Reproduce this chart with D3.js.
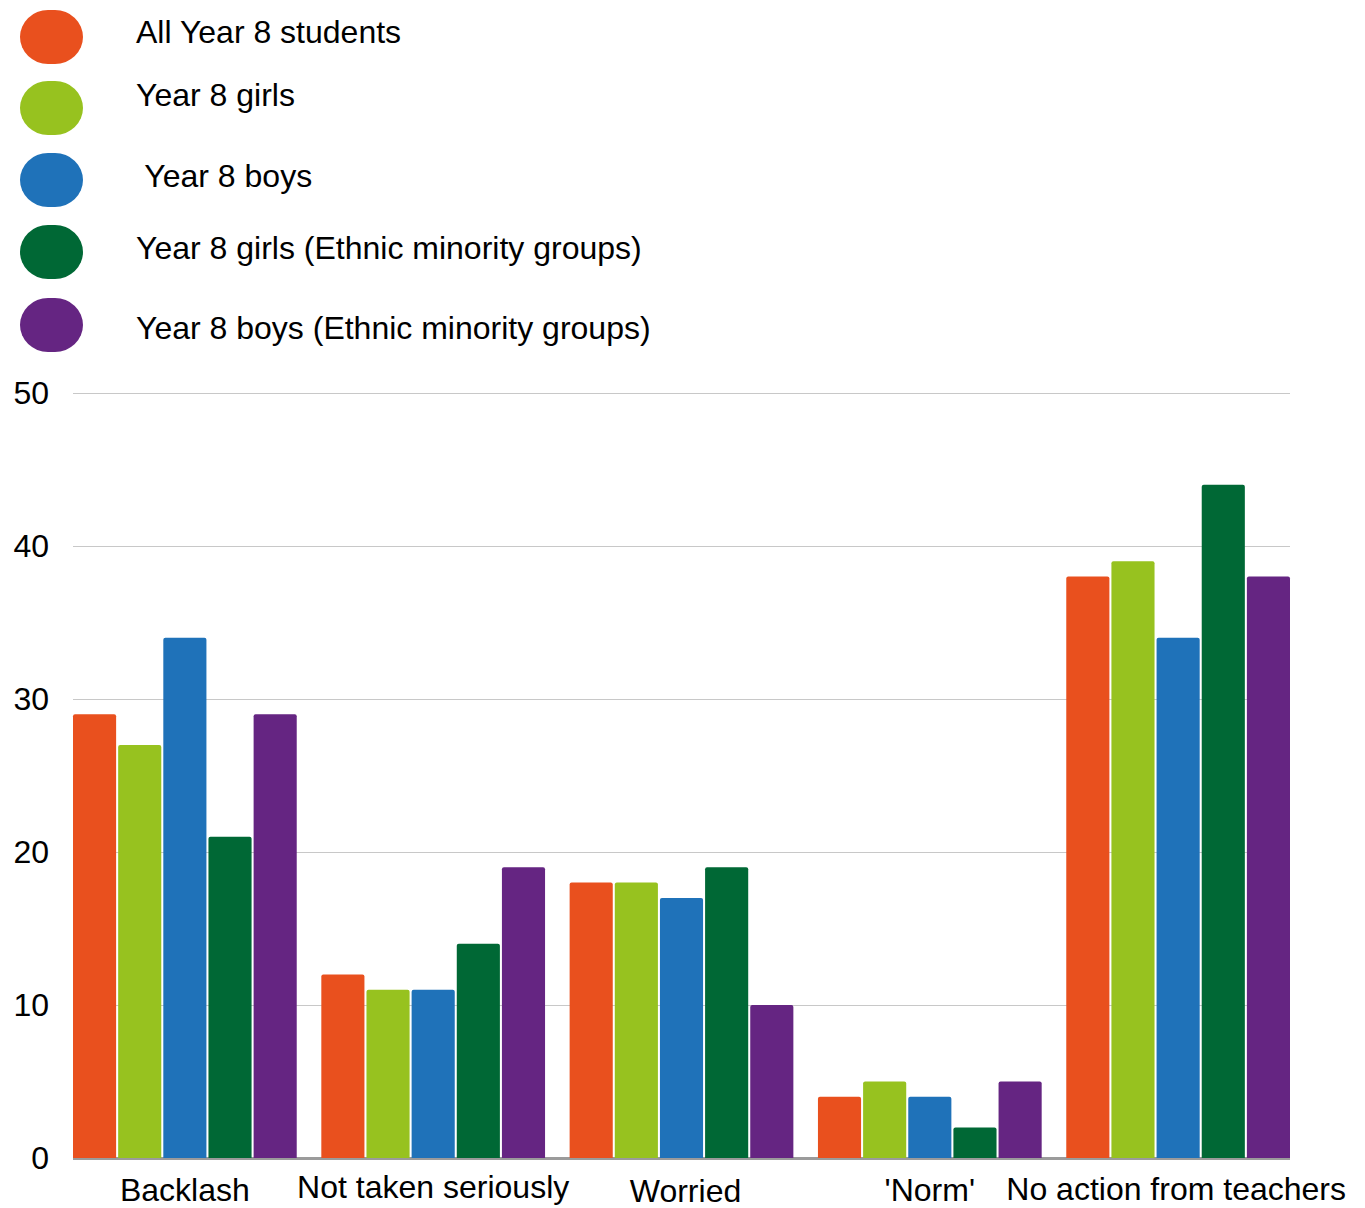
<!DOCTYPE html>
<html>
<head>
<meta charset="utf-8">
<script src="https://cdn.jsdelivr.net/npm/d3@7"></script>
<style>
  html, body { margin: 0; padding: 0; background: #fff; }
  svg { display: block; font-family: "Liberation Sans", Arial, sans-serif; }
</style>
</head>
<body>
<svg id="chart" width="1365" height="1208"></svg>
<script>
// Reasons given, one group of bars per reason
const categories = ["Backlash", "Not taken seriously", "Worried", "'Norm'", "No action from teachers"];

// Respondent groups (legend order)
const seriesNames = [
  "All Year 8 students",
  "Year 8 girls",
  " Year 8 boys",
  "Year 8 girls (Ethnic minority groups)",
  "Year 8 boys (Ethnic minority groups)"
];
const seriesColors = ["#E9501E", "#97C21F", "#1F72B9", "#006835", "#652582"];

// Percentages per series, in category order
const allStudents   = [29, 12, 18, 4, 38];
const girls         = [27, 11, 18, 5, 39];
const boys          = [34, 11, 17, 4, 34];
const girlsMinority = [21, 14, 19, 2, 44];
const boysMinority  = [29, 19, 10, 5, 38];
const seriesValues = [allStudents, girls, boys, girlsMinority, boysMinority];

const yTicks = [0, 10, 20, 30, 40, 50];

const svg = d3.select("#chart");

const plot = { left: 73, right: 1290, top: 393, bottom: 1158 };

const y = d3.scaleLinear().domain([0, 50]).range([plot.bottom, plot.top]);

const x0 = d3.scaleBand()
  .domain(categories)
  .range([plot.left, plot.right])
  .paddingInner(0.099)
  .paddingOuter(0);

const x1 = d3.scaleBand()
  .domain(d3.range(seriesNames.length))
  .range([0, x0.bandwidth()])
  .paddingInner(0.045)
  .paddingOuter(0);

// Horizontal gridlines
svg.append("g")
  .selectAll("line")
  .data(yTicks.filter(t => t > 0))
  .join("line")
  .attr("x1", plot.left)
  .attr("x2", plot.right)
  .attr("y1", d => Math.round(y(d)) + 0.5)
  .attr("y2", d => Math.round(y(d)) + 0.5)
  .attr("stroke", "#c8c8c8")
  .attr("stroke-width", 1);

// Baseline
svg.append("line")
  .attr("x1", plot.left)
  .attr("x2", plot.right)
  .attr("y1", y(0) + 0.5)
  .attr("y2", y(0) + 0.5)
  .attr("stroke", "#9b9b9b")
  .attr("stroke-width", 3);

// Y tick labels
svg.append("g")
  .selectAll("text")
  .data(yTicks)
  .join("text")
  .attr("x", 49)
  .attr("y", d => y(d) - 1)
  .attr("dy", "0.36em")
  .attr("text-anchor", "end")
  .attr("font-size", 32)
  .attr("fill", "#000")
  .text(d => d);

// Bars
const rows = categories.map((c, ci) => ({
  category: c,
  values: seriesValues.map((vals, si) => ({ si, value: vals[ci] }))
}));

const groups = svg.append("g")
  .selectAll("g")
  .data(rows)
  .join("g")
  .attr("transform", d => `translate(${x0(d.category)},0)`);

groups.selectAll("path")
  .data(d => d.values)
  .join("path")
  .attr("fill", d => seriesColors[d.si])
  .attr("d", d => {
    const bx = x1(d.si), bw = x1.bandwidth();
    const top = y(d.value), bot = y(0);
    const r = 2;
    return `M${bx},${bot}V${top + r}Q${bx},${top} ${bx + r},${top}` +
           `H${bx + bw - r}Q${bx + bw},${top} ${bx + bw},${top + r}V${bot}Z`;
  });

// Category labels (small per-label nudges keep them clear of each other)
const labelDx = [0, 0, 4, 0, -2];
const labelDy = [1, -2, 2, 1, 0];
svg.append("g")
  .selectAll("text")
  .data(categories)
  .join("text")
  .attr("x", (d, i) => x0(d) + x0.bandwidth() / 2 + labelDx[i])
  .attr("y", (d, i) => 1200 + labelDy[i])
  .attr("text-anchor", "middle")
  .attr("font-size", 32)
  .attr("fill", "#000")
  .text(d => d);

// Legend
const legendCenters = [37, 108, 180, 252, 325];
const legendBaselines = [43, 106, 187, 259, 339];
const legend = svg.append("g");

legend.selectAll("rect")
  .data(seriesNames)
  .join("rect")
  .attr("x", 20)
  .attr("y", (d, i) => legendCenters[i] - 27)
  .attr("width", 63)
  .attr("height", 54)
  .attr("rx", 28)
  .attr("ry", 27)
  .attr("fill", (d, i) => seriesColors[i]);

legend.selectAll("text")
  .data(seriesNames)
  .join("text")
  .attr("x", 136)
  .attr("y", (d, i) => legendBaselines[i])
  .attr("font-size", 32)
  .attr("fill", "#000")
  .attr("xml:space", "preserve")
  .style("white-space", "pre")
  .text(d => d);
</script>
</body>
</html>
